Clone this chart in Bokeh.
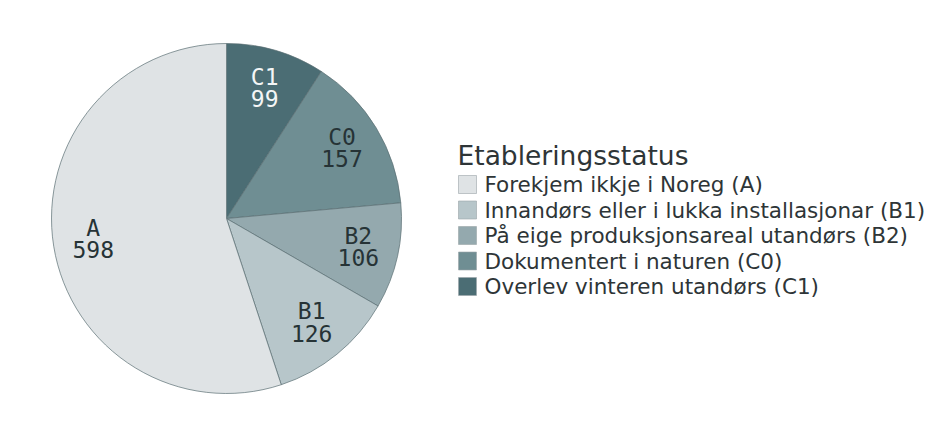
import math
from bokeh.plotting import figure
from bokeh.models import ColumnDataSource, Range1d
from bokeh.core.properties import value
from bokeh.embed import file_html
from bokeh.resources import INLINE

codes = ["C1", "C0", "B2", "B1", "A"]
counts = [99, 157, 106, 126, 598]
colors = ["#4b6d74", "#6f8e93", "#94a9ae", "#b7c6ca", "#dfe3e5"]
label_colors = ["#f4f6f6", "#263336", "#263336", "#263336", "#263336"]

legend_title = "Etableringsstatus"
legend_codes = ["A", "B1", "B2", "C0", "C1"]
legend_labels = [
    "Forekjem ikkje i Noreg (A)",
    "Innandørs eller i lukka installasjonar (B1)",
    "På eige produksjonsareal utandørs (B2)",
    "Dokumentert i naturen (C0)",
    "Overlev vinteren utandørs (C1)",
]

W, H = 924, 422
cx, cy, R = 226, H - 218, 175
label_r = 135

total = sum(counts)
starts, ends, lx, ly = [], [], [], []
cum = 0
for c in counts:
    a0 = math.pi / 2 - cum / total * 2 * math.pi
    cum += c
    a1 = math.pi / 2 - cum / total * 2 * math.pi
    starts.append(a0)
    ends.append(a1)
    mid = (a0 + a1) / 2
    lx.append(cx + label_r * math.cos(mid))
    ly.append(cy + label_r * math.sin(mid))

src = ColumnDataSource(dict(
    code=codes, count=[str(v) for v in counts], color=colors, lcolor=label_colors,
    start=starts, end=ends, lx=lx, ly=ly,
    ly1=[y + 12 for y in ly], ly2=[y - 10 for y in ly],
))

p = figure(width=W, height=H, output_backend="svg", toolbar_location=None,
           x_range=Range1d(0, W), y_range=Range1d(0, H), min_border=0)
p.axis.visible = False
p.grid.visible = False
p.outline_line_color = None
p.background_fill_color = "white"

p.wedge(x=cx, y=cy, radius=R, start_angle="start", end_angle="end", direction="clock",
        fill_color="color", line_color="#5a6e72", line_width=0.7, source=src)

p.text(x="lx", y="ly1", text="code", source=src, text_color="lcolor",
       text_font=value("DejaVu Sans Mono"), text_font_size="23px",
       text_align="center", text_baseline="middle")
p.text(x="lx", y="ly2", text="count", source=src, text_color="lcolor",
       text_font=value("DejaVu Sans Mono"), text_font_size="23px",
       text_align="center", text_baseline="middle")

# legend
lg_x = 457
title_y = H - 155
p.text(x=[lg_x], y=[title_y], text=[legend_title], text_color="#2e3537",
       text_font=value("DejaVu Sans"), text_font_size="26.5px", text_baseline="middle")
col_map = dict(zip(codes, colors))
item_y = [H - (184 + i * 25.5) for i in range(len(legend_labels))]
p.rect(x=[lg_x + 10] * len(item_y), y=item_y, width=18, height=18,
       fill_color=[col_map[c] for c in legend_codes], line_color="#9aa5a8", line_width=0.6)
p.text(x=[lg_x + 27] * len(item_y), y=item_y, text=legend_labels, text_color="#2e3537",
       text_font=value("DejaVu Sans"), text_font_size="21.5px", text_baseline="middle")

open("out.html", "w").write(file_html(p, INLINE))
